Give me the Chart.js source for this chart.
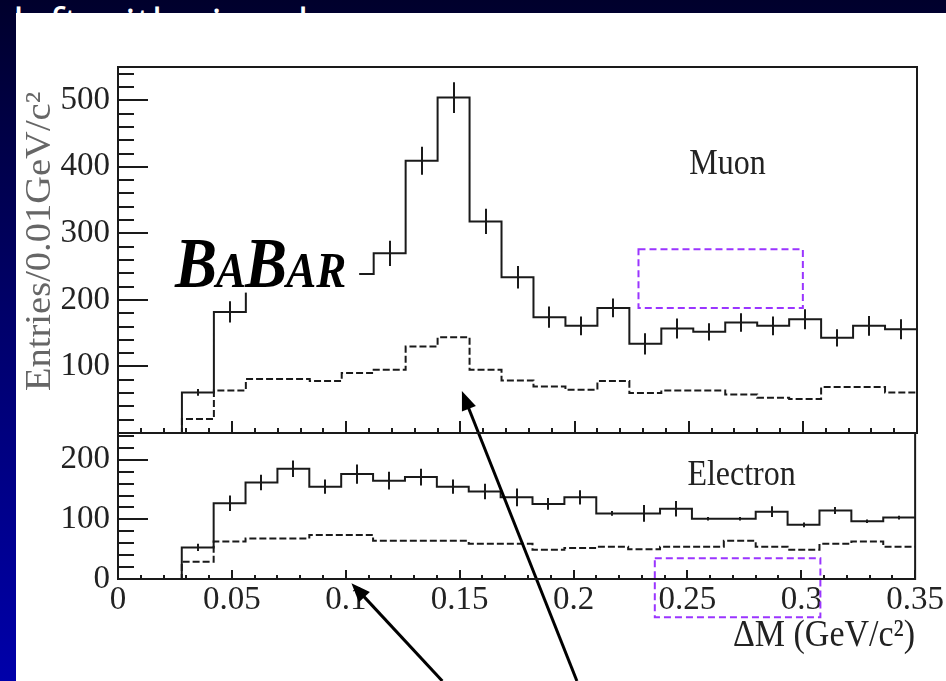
<!DOCTYPE html>
<html>
<head>
<meta charset="utf-8">
<script src="https://cdn.jsdelivr.net/npm/chart.js@4.4.1/dist/chart.umd.min.js"></script>
<style>
  html, body { margin: 0; padding: 0; }
  body {
    width: 946px; height: 681px; overflow: hidden; position: relative;
    background: linear-gradient(to bottom, #00002c 0%, #000068 45%, #0000aa 100%);
  }
  #heading {
    position: absolute; left: 13px; top: 1px; color: #fff; white-space: nowrap;
    font: 44px/44px "Open Sans", sans-serif;
  }
  #panel { position: absolute; left: 16px; top: 13px; right: 0; bottom: 0; background: #fff; }
  canvas { position: absolute; left: 0; top: 0; }
</style>
</head>
<body>
<div id="heading">left with signal</div>
<div id="panel"></div>
<canvas id="muon_chart" width="946" height="681"></canvas>
<canvas id="electron_chart" width="946" height="681"></canvas>
<script>
// bin edges in GeV/c^2, the last entry closes the final bin
const binEdges = [0.014, 0.028, 0.042, 0.056, 0.070, 0.084, 0.098, 0.112, 0.126, 0.140, 0.154, 0.168,
  0.182, 0.196, 0.210, 0.224, 0.238, 0.252, 0.266, 0.280, 0.294, 0.308, 0.322, 0.336, 0.350];

// muon sample: data, errors, background estimate
const muonData = [0, 61, 182, 232, 250, 244, 239, 270, 409, 504, 318, 234, 174, 161, 188, 134, 157, 152, 166, 161, 171, 143, 161, 156];
const muonErr = [0, 5, 16, 17, 18, 18, 17, 19, 21, 23, 19, 17, 16, 14, 14, 16, 15, 13, 14, 14, 15, 13, 15, 15];
const muonBkg = [0, 21, 64, 81, 81, 78, 90, 95, 130, 144, 95, 79, 70, 65, 78, 60, 64, 64, 58, 53, 51, 69, 69, 61];

// electron sample
const electronData = [0, 53, 127, 162, 185, 155, 176, 165, 171, 155, 147, 137, 126, 137, 110, 110, 118, 101, 101, 113, 91, 115, 97, 103];
const electronErr = [0, 6, 13, 13, 14, 12, 16, 15, 14, 12, 13, 15, 10, 12, 4, 14, 13, 3, 3, 9, 4, 6, 3, 3];
const electronBkg = [0, 29, 63, 68, 68, 74, 74, 64, 64, 64, 59, 59, 49, 52, 54, 50, 54, 54, 64, 54, 49, 59, 63, 54];

const xTickLabels = ["0", "0.05", "0.1", "0.15", "0.2", "0.25", "0.3", "0.35"];
const muonTickLabels = ["100", "200", "300", "400", "500"];
const electronTickLabels = ["0", "100", "200"];

const serif = "'Liberation Serif', 'Times New Roman', serif";
const ink = "#1a1a1a";

function histPoints(vals) {
  return binEdges.map((x, i) => ({ x: x, y: vals[Math.min(i, vals.length - 1)] }));
}

function stretchedText(ctx, text, x, y, font, color, align) {
  ctx.save();
  ctx.translate(x, y);
  ctx.scale(1, 1.14);
  ctx.font = font;
  ctx.fillStyle = color;
  ctx.textAlign = align;
  ctx.textBaseline = "alphabetic";
  ctx.fillText(text, 0, 0);
  ctx.restore();
}

function arrow(ctx, x0, y0, x1, y1) {
  const a = Math.atan2(y1 - y0, x1 - x0);
  const len = 19, half = 7.5;
  const c = Math.cos(a), s = Math.sin(a);
  ctx.beginPath();
  ctx.moveTo(x0, y0);
  ctx.lineTo(x1 - c * (len - 3), y1 - s * (len - 3));
  ctx.stroke();
  ctx.beginPath();
  ctx.moveTo(x1, y1);
  ctx.lineTo(x1 - c * len + s * half, y1 - s * len - c * half);
  ctx.lineTo(x1 - c * len - s * half, y1 - s * len + c * half);
  ctx.closePath();
  ctx.fill();
}

function dashedBox(ctx, x0, y0, x1, y1) {
  ctx.save();
  ctx.strokeStyle = "#9a35ff";
  ctx.lineWidth = 2;
  ctx.setLineDash([7, 4]);
  ctx.strokeRect(x0, y0, x1 - x0, y1 - y0);
  ctx.restore();
}

// vertical error bars at the bin centres
const errorBars = {
  id: "errorBars",
  afterDatasetsDraw(chart) {
    const { ctx, scales: { x, y } } = chart;
    ctx.save();
    ctx.strokeStyle = ink;
    ctx.lineWidth = 2;
    ctx.beginPath();
    chart.data.datasets.forEach((ds) => {
      if (!ds.errors) return;
      ds.errors.forEach((e, i) => {
        if (!e) return;
        const v = ds.data[i].y;
        const px = Math.round(x.getPixelForValue((binEdges[i] + binEdges[i + 1]) / 2));
        ctx.moveTo(px, y.getPixelForValue(v - e));
        ctx.lineTo(px, y.getPixelForValue(v + e));
      });
    });
    ctx.stroke();
    ctx.restore();
  },
};

// box frame with ticks pointing inwards
const rootFrame = {
  id: "rootFrame",
  afterDraw(chart, args, opts) {
    const { ctx, chartArea: a, scales: { x, y } } = chart;
    ctx.save();
    ctx.strokeStyle = ink;
    ctx.lineWidth = 2;
    ctx.beginPath();
    const ny = Math.floor((y.max - y.min) / opts.yMinor + 1e-6);
    for (let i = 0; i <= ny; i++) {
      const py = Math.round(y.getPixelForValue(y.min + i * opts.yMinor));
      const len = i % 5 === 0 ? opts.yMajorLen : opts.yMinorLen;
      ctx.moveTo(a.left, py);
      ctx.lineTo(a.left + len, py);
    }
    const nx = Math.round((x.max - x.min) / opts.xMinor);
    for (let i = 0; i <= nx; i++) {
      const px = Math.round(x.getPixelForValue(x.min + i * opts.xMinor));
      const len = i % 5 === 0 ? opts.xMajorLen : opts.xMinorLen;
      ctx.moveTo(px, a.bottom);
      ctx.lineTo(px, a.bottom - len);
    }
    ctx.stroke();
    ctx.strokeRect(a.left, a.top, a.right - a.left, a.bottom - a.top);
    ctx.restore();
  },
};

const muonNotes = {
  id: "muonNotes",
  afterDraw(chart) {
    const { ctx, chartArea: a, scales: { x, y } } = chart;

    // experiment logo on a white patch
    const bx = x.getPixelForValue(0.025);
    const by = y.getPixelForValue(220);
    const big = "italic bold 63px " + serif;
    const small = "italic bold 45px " + serif;
    const parts = [["B", big], ["A", small], ["B", big], ["AR", small]];
    ctx.save();
    let w = 0;
    parts.forEach(([t, f]) => { ctx.font = f; w += ctx.measureText(t).width - 1; });
    ctx.fillStyle = "#fff";
    ctx.fillRect(bx - 10, by - 52, w + 24, 58);
    let cx = bx;
    parts.forEach(([t, f]) => {
      stretchedText(ctx, t, cx, by, f, "#000", "left");
      ctx.font = f;
      cx += ctx.measureText(t).width - 1;
    });
    ctx.restore();

    stretchedText(ctx, "Muon", x.getPixelForValue(0.267), y.getPixelForValue(389), "32px " + serif, "#222", "center");

    dashedBox(ctx, x.getPixelForValue(0.228), y.getPixelForValue(276), x.getPixelForValue(0.300), y.getPixelForValue(188));

    // y axis title
    ctx.save();
    ctx.translate(a.left - 77, y.getPixelForValue(288));
    ctx.rotate(-Math.PI / 2);
    ctx.scale(1.1, 1);
    ctx.font = "35px " + serif;
    ctx.fillStyle = "#666";
    ctx.textAlign = "center";
    ctx.textBaseline = "middle";
    ctx.fillText("Entries/0.01GeV/c\u00b2", 0, 0);
    ctx.restore();
  },
};

const tickFont = { family: serif, size: 33 };

let muon_chart = document.getElementById("muon_chart");
let muonChart = new Chart(muon_chart, {
  type: "line",
  data: {
    datasets: [
      {
        label: "Muon",
        data: histPoints(muonData),
        errors: muonErr,
        stepped: true,
        borderColor: ink,
        borderWidth: 2,
        pointRadius: 0,
      },
      {
        label: "Muon background",
        data: histPoints(muonBkg),
        stepped: true,
        borderColor: ink,
        borderWidth: 2,
        borderDash: [7, 3],
        pointRadius: 0,
      },
    ],
  },
  options: {
    responsive: false,
    animation: false,
    layout: { padding: { left: 0, top: 67, right: 29, bottom: 248 } },
    plugins: {
      legend: { display: false },
      tooltip: { enabled: false },
      rootFrame: { yMinor: 20, xMinor: 0.01, yMajorLen: 30, yMinorLen: 16, xMajorLen: 12, xMinorLen: 5 },
    },
    scales: {
      x: {
        type: "linear",
        min: 0,
        max: 0.35,
        ticks: { display: false, stepSize: 0.05 },
        grid: { display: false, drawTicks: false },
        border: { display: false },
        afterFit: (s) => { s.height = 0; },
      },
      y: {
        type: "linear",
        min: 0,
        max: 550,
        ticks: {
          stepSize: 100,
          includeBounds: false,
          padding: 8,
          color: "#222",
          font: tickFont,
          callback: (v) => (muonTickLabels.includes(String(v)) ? String(v) : ""),
        },
        grid: { display: false, drawTicks: false },
        border: { display: false },
        afterFit: (s) => { s.width = 118; },
      },
    },
  },
  plugins: [errorBars, muonNotes, rootFrame],
});

const electronNotes = {
  id: "electronNotes",
  afterDraw(chart) {
    const { ctx, chartArea: a, scales: { x, y } } = chart;
    stretchedText(ctx, "Electron", x.getPixelForValue(0.2738), y.getPixelForValue(158), "32px " + serif, "#222", "center");
    dashedBox(ctx, x.getPixelForValue(0.2357), y.getPixelForValue(35), x.getPixelForValue(0.3084), y.getPixelForValue(-64));
    stretchedText(ctx, "\u0394M (GeV/c\u00b2)", a.right, 646, "34px " + serif, "#222", "right");

    // pointers from the text below
    const ty = muonChart.scales.y;
    ctx.save();
    ctx.strokeStyle = "#000";
    ctx.fillStyle = "#000";
    ctx.lineWidth = 3;
    arrow(ctx, x.getPixelForValue(0.1424), chart.height, x.getPixelForValue(0.1025), y.getPixelForValue(-7));
    arrow(ctx, x.getPixelForValue(0.2015), chart.height, x.getPixelForValue(0.151), ty.getPixelForValue(63));
    ctx.restore();
  },
};

let electron_chart = document.getElementById("electron_chart");
let electronChart = new Chart(electron_chart, {
  type: "line",
  data: {
    datasets: [
      {
        label: "Electron",
        data: histPoints(electronData),
        errors: electronErr,
        stepped: true,
        borderColor: ink,
        borderWidth: 2,
        pointRadius: 0,
      },
      {
        label: "Electron background",
        data: histPoints(electronBkg),
        stepped: true,
        borderColor: ink,
        borderWidth: 2,
        borderDash: [7, 3],
        pointRadius: 0,
      },
    ],
  },
  options: {
    responsive: false,
    animation: false,
    layout: { padding: { left: 0, top: 433, right: 29, bottom: 0 } },
    plugins: {
      legend: { display: false },
      tooltip: { enabled: false },
      rootFrame: { yMinor: 20, xMinor: 0.01, yMajorLen: 30, yMinorLen: 16, xMajorLen: 9, xMinorLen: 4 },
    },
    scales: {
      x: {
        type: "linear",
        min: 0,
        max: 0.35,
        ticks: {
          stepSize: 0.05,
          autoSkip: false,
          maxRotation: 0,
          padding: 2,
          color: "#222",
          font: tickFont,
          callback: (v) => xTickLabels.find((l) => Math.abs(Number(l) - v) < 1e-9) || "",
        },
        grid: { display: false, drawTicks: false },
        border: { display: false },
        afterFit: (s) => { s.height = 102; },
      },
      y: {
        type: "linear",
        min: 0,
        max: 245,
        ticks: {
          stepSize: 100,
          includeBounds: false,
          padding: 8,
          color: "#222",
          font: tickFont,
          callback: (v) => (electronTickLabels.includes(String(v)) ? String(v) : ""),
        },
        grid: { display: false, drawTicks: false },
        border: { display: false },
        afterFit: (s) => { s.width = 118; },
      },
    },
  },
  plugins: [errorBars, electronNotes, rootFrame],
});
</script>
</body>
</html>
